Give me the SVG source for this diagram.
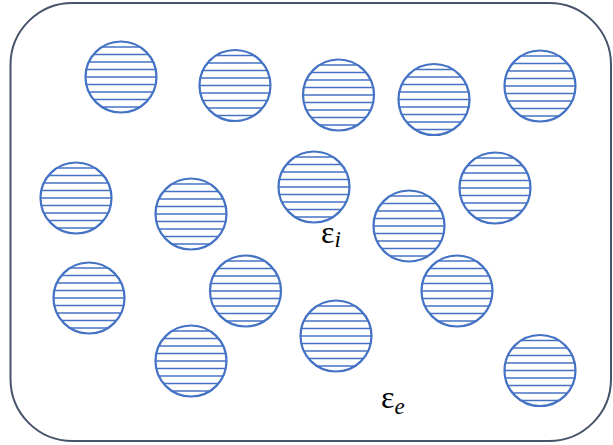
<svg xmlns="http://www.w3.org/2000/svg" xmlns:xlink="http://www.w3.org/1999/xlink" width="613" height="445" viewBox="0 0 613 445">
  <style>
    .frame { fill: #ffffff; stroke: #46546a; stroke-width: 2; }
    .ring { fill: none; stroke: #4472c4; stroke-width: 2.2; }
    .hatch { stroke: #4472c4; stroke-width: 1.7; }
    .lbl { font-family: "Liberation Serif", "DejaVu Serif", serif; fill: #000000; }
    .main { font-size: 32px; }
    .sub { font-size: 23px; font-style: italic; }
  </style>
  <defs>
    <clipPath id="cc"><circle cx="0" cy="0" r="35.5"/></clipPath>
    <g id="disk">
      <g clip-path="url(#cc)" class="hatch">
        <line x1="-37" y1="-30" x2="37" y2="-30"/>
        <line x1="-37" y1="-22.5" x2="37" y2="-22.5"/>
        <line x1="-37" y1="-15" x2="37" y2="-15"/>
        <line x1="-37" y1="-7.5" x2="37" y2="-7.5"/>
        <line x1="-37" y1="0" x2="37" y2="0"/>
        <line x1="-37" y1="7.5" x2="37" y2="7.5"/>
        <line x1="-37" y1="15" x2="37" y2="15"/>
        <line x1="-37" y1="22.5" x2="37" y2="22.5"/>
        <line x1="-37" y1="30" x2="37" y2="30"/>
      </g>
      <circle class="ring" cx="0" cy="0" r="35.5"/>
    </g>
  </defs>
  <g id="medium">
    <rect class="frame" x="10.5" y="3" width="600.5" height="438" rx="62" ry="62"/>
  </g>
  <g id="connectors"></g>
  <g id="p1" transform="translate(121,77)"><use xlink:href="#disk"/></g>
  <g id="p2" transform="translate(235,85.5)"><use xlink:href="#disk"/></g>
  <g id="p3" transform="translate(338.5,95)"><use xlink:href="#disk"/></g>
  <g id="p4" transform="translate(434,99.5)"><use xlink:href="#disk"/></g>
  <g id="p5" transform="translate(540,86)"><use xlink:href="#disk"/></g>
  <g id="p6" transform="translate(76,198)"><use xlink:href="#disk"/></g>
  <g id="p7" transform="translate(191,214)"><use xlink:href="#disk"/></g>
  <g id="p8" transform="translate(314,187)"><use xlink:href="#disk"/></g>
  <g id="p9" transform="translate(409,226)"><use xlink:href="#disk"/></g>
  <g id="p10" transform="translate(495,188)"><use xlink:href="#disk"/></g>
  <g id="p11" transform="translate(89,298)"><use xlink:href="#disk"/></g>
  <g id="p12" transform="translate(245.5,291)"><use xlink:href="#disk"/></g>
  <g id="p13" transform="translate(457,291)"><use xlink:href="#disk"/></g>
  <g id="p14" transform="translate(191,361)"><use xlink:href="#disk"/></g>
  <g id="p15" transform="translate(336,336)"><use xlink:href="#disk"/></g>
  <g id="p16" transform="translate(540,370.5)"><use xlink:href="#disk"/></g>
  <g id="label-i">
    <text class="lbl" x="321" y="243"><tspan class="main">ε</tspan><tspan class="sub" dy="4">i</tspan></text>
  </g>
  <g id="label-e">
    <text class="lbl" x="381" y="408"><tspan class="main">ε</tspan><tspan class="sub" dy="6">e</tspan></text>
  </g>
</svg>
